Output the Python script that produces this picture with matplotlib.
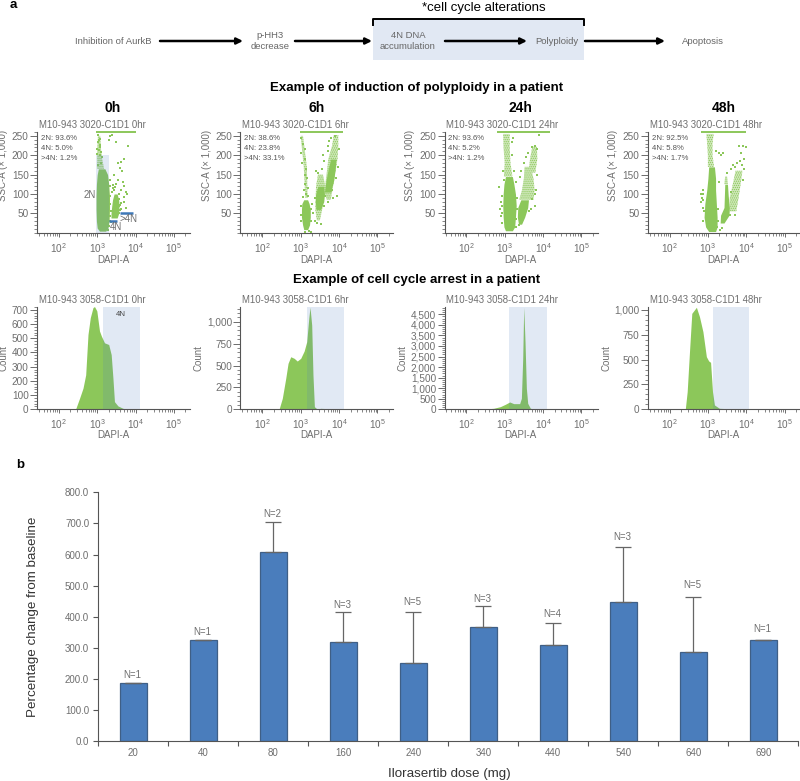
import numpy as np
import matplotlib
matplotlib.use('Agg')
import matplotlib.pyplot as plt
from matplotlib.ticker import MultipleLocator, StrMethodFormatter, NullFormatter, LogLocator

plt.rcParams['font.family'] = ['Liberation Sans', 'DejaVu Sans']
plt.rcParams['mathtext.default'] = 'regular'
plt.rcParams['hatch.linewidth'] = 0.6

# ---- panel a, scatter plots: x values are log10(DAPI-A), y values are SSC-A / 1000
# clusters are (y levels, left edge, right edge)
hours = ['0h', '6h', '24h', '48h']
scatter_names = ['M10-943 3020-C1D1 0hr', 'M10-943 3020-C1D1 6hr',
                 'M10-943 3020-C1D1 24hr', 'M10-943 3020-C1D1 48hr']
hist_names = ['M10-943 3058-C1D1 0hr', 'M10-943 3058-C1D1 6hr',
              'M10-943 3058-C1D1 24hr', 'M10-943 3058-C1D1 48hr']
stats = [['2N: 93.6%', '4N: 5.0%', '>4N: 1.2%'],
         ['2N: 38.6%', '4N: 23.8%', '>4N: 33.1%'],
         ['2N: 93.6%', '4N: 5.2%', '>4N: 1.2%'],
         ['2N: 92.5%', '4N: 5.8%', '>4N: 1.7%']]

dense_0h = [
    ([4, 12, 30, 60, 95, 125, 150, 165],
     [3.06, 3.00, 2.98, 2.97, 2.97, 2.98, 3.00, 3.03],
     [3.22, 3.28, 3.31, 3.32, 3.32, 3.30, 3.27, 3.20]),
    ([38, 50, 70, 85, 100],
     [3.36, 3.36, 3.38, 3.40, 3.44],
     [3.52, 3.56, 3.57, 3.56, 3.52]),
]
sparse_0h = [
    ([165, 190, 215, 250],
     [3.00, 3.00, 3.00, 3.02],
     [3.18, 3.13, 3.10, 3.08]),
]
dots_0h = [(3.03, 251), (3.08, 243), (3.02, 234), (3.06, 226), (2.99, 217), (3.04, 213),
           (3.10, 209), (3.00, 204), (3.06, 200), (3.32, 240), (3.50, 233), (3.80, 224),
           (3.34, 250), (3.39, 253), (3.71, 189), (3.63, 183), (3.54, 179), (3.60, 166),
           (3.65, 160), (3.45, 148), (3.54, 136), (3.67, 131), (3.71, 120), (3.50, 127),
           (3.41, 123), (3.63, 110), (3.74, 106), (3.77, 101), (3.69, 93), (3.58, 88),
           (3.71, 80), (3.63, 76), (3.76, 63), (3.60, 58), (3.45, 110), (3.10, 180),
           (3.02, 175), (3.08, 222), (3.05, 240), (3.12, 196), (3.40, 115), (3.58, 100),
           (3.62, 62), (3.47, 118), (3.56, 70), (3.60, 72), (3.33, 75), (3.34, 95),
           (3.35, 55), (3.34, 42), (3.38, 105), (3.58, 50), (3.33, 135), (3.36, 28),
           (3.30, 18), (3.27, 8), (3.33, 30), (3.34, 120)]

dense_6h = [
    ([8, 20, 40, 60, 75, 85],
     [3.08, 3.05, 3.02, 3.02, 3.03, 3.08],
     [3.18, 3.23, 3.25, 3.25, 3.22, 3.18]),
    ([60, 80, 100, 120],
     [3.40, 3.38, 3.39, 3.45],
     [3.52, 3.60, 3.62, 3.60]),
    ([105, 135, 165, 190],
     [3.62, 3.66, 3.72, 3.78],
     [3.78, 3.86, 3.90, 3.92]),
]
sparse_6h = [
    ([32, 60, 120, 150],
     [3.42, 3.38, 3.40, 3.45],
     [3.50, 3.56, 3.64, 3.58]),
    ([85, 105, 190, 225, 252],
     [3.68, 3.62, 3.72, 3.82, 3.86],
     [3.78, 3.82, 3.96, 3.98, 3.98]),
    ([90, 170, 250],
     [3.12, 3.08, 3.00],
     [3.18, 3.16, 3.06]),
]
dots_6h = [(3.02, 245), (3.05, 228), (3.00, 205), (3.10, 215), (3.12, 190), (3.04, 180),
           (3.15, 165), (3.10, 150), (3.17, 140), (3.12, 125), (3.18, 115), (3.08, 110),
           (3.15, 100), (3.20, 95), (3.05, 92), (3.45, 155), (3.40, 160), (3.30, 75),
           (3.33, 50), (3.38, 30), (3.42, 25), (3.52, 22), (3.60, 70), (3.55, 165),
           (3.62, 185), (3.58, 200), (3.70, 225), (3.75, 238), (3.80, 245), (3.72, 210),
           (3.85, 90), (3.82, 110), (3.95, 95), (3.70, 78), (3.98, 170), (4.00, 215),
           (3.93, 140), (3.10, 3), (3.22, 5), (3.27, 2), (3.00, 70), (3.01, 45),
           (3.27, 60), (3.26, 30), (3.00, 30), (3.63, 95), (3.36, 90), (3.90, 250)]

dense_24h = [
    ([5, 15, 40, 70, 100, 125, 145],
     [3.02, 2.98, 2.96, 2.95, 2.96, 2.98, 3.02],
     [3.20, 3.26, 3.28, 3.30, 3.28, 3.24, 3.20]),
    ([22, 40, 65, 85],
     [3.36, 3.33, 3.34, 3.42],
     [3.44, 3.52, 3.60, 3.62]),
]
sparse_24h = [
    ([145, 180, 220, 255],
     [2.98, 3.00, 2.97, 2.96],
     [3.20, 3.15, 3.13, 3.13]),
    ([85, 110, 140, 170],
     [3.38, 3.45, 3.50, 3.52],
     [3.75, 3.78, 3.75, 3.68]),
    ([155, 190, 222],
     [3.62, 3.66, 3.72],
     [3.80, 3.85, 3.84]),
]
dots_24h = [(2.85, 117), (2.90, 80), (2.88, 60), (2.92, 25), (2.90, 42), (3.30, 130),
            (3.40, 145), (3.42, 160), (3.50, 180), (3.55, 195), (3.60, 205), (3.70, 222),
            (3.80, 225), (3.85, 215), (3.78, 70), (3.72, 88), (3.82, 110), (3.85, 150),
            (3.20, 200), (3.18, 235), (3.22, 245), (3.90, 252), (3.38, 20), (3.30, 15),
            (2.94, 95), (2.93, 70), (2.94, 50), (3.31, 60), (3.31, 90), (3.30, 35),
            (3.24, 160), (2.97, 135), (2.95, 160), (3.63, 55), (3.68, 62), (3.80, 100)]

dense_48h = [
    ([3, 15, 40, 75, 110, 140, 170],
     [3.02, 2.94, 2.90, 2.92, 2.97, 3.00, 3.02],
     [3.20, 3.24, 3.24, 3.22, 3.20, 3.20, 3.17]),
    ([25, 45, 65, 95, 125],
     [3.32, 3.33, 3.42, 3.43, 3.44],
     [3.42, 3.55, 3.56, 3.53, 3.51]),
]
sparse_48h = [
    ([170, 200, 230, 255],
     [3.00, 3.00, 2.98, 2.96],
     [3.16, 3.12, 3.12, 3.15]),
    ([125, 145],
     [3.43, 3.45],
     [3.52, 3.50]),
    ([55, 90, 130, 160],
     [3.57, 3.57, 3.66, 3.72],
     [3.74, 3.80, 3.86, 3.90]),
]
dots_48h = [(2.83, 100), (2.85, 90), (2.82, 80), (2.88, 110), (2.86, 65), (2.88, 30),
            (3.20, 210), (3.28, 205), (3.35, 200), (3.40, 207), (3.30, 130), (3.25, 15),
            (3.32, 8), (3.38, 12), (3.60, 165), (3.65, 175), (3.75, 180), (3.85, 185),
            (3.90, 175), (3.95, 190), (3.80, 225), (3.92, 225), (4.00, 220), (3.87, 205),
            (3.70, 170), (3.58, 45), (3.50, 155), (3.70, 45), (2.88, 85), (2.90, 55),
            (2.87, 100), (3.26, 60), (3.26, 30), (3.95, 165), (3.60, 105), (3.92, 135)]

scatter_dense = [dense_0h, dense_6h, dense_24h, dense_48h]
scatter_sparse = [sparse_0h, sparse_6h, sparse_24h, sparse_48h]
scatter_dots = [dots_0h, dots_6h, dots_24h, dots_48h]
# off-scale events piled up along the top edge: (from, to) in log10 DAPI-A
top_edge = [(2.96, 4.00), (2.97, 4.11), (2.80, 4.19), (2.83, 4.00)]

# ---- panel a, histograms: log10(DAPI-A) and count
hist_x_0h = [2.435, 2.54, 2.63, 2.70, 2.76, 2.82, 2.89, 2.93, 2.99, 3.06, 3.11, 3.19, 3.30,
             3.365, 3.41, 3.45, 3.54, 3.67, 3.80]
hist_y_0h = [0, 78, 149, 243, 527, 645, 716, 723, 693, 551, 515, 468, 456, 385, 220, 54, 24, 7, 0]
hist_x_6h = [2.435, 2.52, 2.61, 2.67, 2.74, 2.83, 2.91, 3.0, 3.09, 3.157, 3.21, 3.243, 3.287,
             3.32, 3.357, 3.435, 3.52, 3.87]
hist_y_6h = [0, 125, 354, 525, 600, 582, 551, 582, 665, 772, 1038, 1165, 962, 392, 30, 0, 11, 4]
hist_x_24h = [2.365, 2.71, 2.887, 3.017, 3.13, 3.235, 3.39, 3.435, 3.47, 3.496, 3.53, 3.565,
              3.60, 3.67, 3.84]
hist_y_24h = [0, 47, 126, 237, 347, 268, 268, 521, 2417, 4840, 3200, 995, 284, 47, 0]
hist_x_48h = [2.41, 2.46, 2.52, 2.58, 2.70, 2.78, 2.87, 2.96, 3.02, 3.07, 3.12, 3.17, 3.30,
              3.70, 3.96]
hist_y_48h = [0, 178, 580, 966, 1027, 933, 782, 530, 487, 473, 178, 44, 10, 3, 0]

hist_x = [hist_x_0h, hist_x_6h, hist_x_24h, hist_x_48h]
hist_y = [hist_y_0h, hist_y_6h, hist_y_24h, hist_y_48h]
hist_ymax = [720, 1168, 4846, 1030]
hist_major = [100, 250, 500, 250]
hist_minor = [20, 50, 100, 50]
gate_4n = [(3.15, 4.107), (3.157, 4.13), (3.12, 4.10), (3.14, 4.08)]

# ---- panel b
doses = ['20', '40', '80', '160', '240', '340', '440', '540', '640', '690']
pct_change = [186, 327, 607, 319, 250, 366, 309, 446, 287, 327]
err_up = [0, 0, 96, 97, 166, 70, 72, 179, 177, 0]
n_patients = [1, 1, 2, 3, 5, 3, 4, 3, 5, 1]

# ---- styles
GREEN = '#8CC75A'
PALE_GREEN = '#CFE8BA'
SHADE = '#4F7FBF'
SHADE_A = 0.17
GREY = '#6E6E6E'
AXIS = '#555555'
BLUE = '#4A7DBC'
col_left = [37, 240.5, 444.5, 647.7]
PANEL_W = 153

fig = plt.figure(figsize=(8, 7.81), dpi=100)


def px_axes(left, top, width, height):
    return fig.add_axes([left / 800, 1 - (top + height) / 781, width / 800, height / 781])


def style_flow_axes(ax):
    ax.set_xscale('log')
    ax.set_xlim(10 ** 1.43, 10 ** 5.42)
    ax.spines['top'].set_visible(False)
    ax.spines['right'].set_visible(False)
    ax.spines['left'].set_color(AXIS)
    ax.spines['bottom'].set_color(AXIS)
    ax.spines['left'].set_linewidth(0.8)
    ax.spines['bottom'].set_linewidth(0.8)
    ax.xaxis.set_major_locator(LogLocator(base=10, numticks=8))
    ax.xaxis.set_minor_locator(LogLocator(base=10, subs=np.arange(2, 10), numticks=8))
    ax.xaxis.set_minor_formatter(NullFormatter())
    ax.tick_params(axis='y', which='major', length=5, width=0.6, color=AXIS,
                   labelsize=7.2, labelcolor=GREY, pad=1)
    ax.tick_params(axis='x', which='major', length=3, width=0.6, color=AXIS,
                   labelsize=7.2, labelcolor=GREY, pad=3)
    ax.tick_params(axis='both', which='minor', length=2, width=0.5, color=AXIS)
    ax.patch.set_alpha(0)


for i in range(4):
    ax = px_axes(col_left[i], 132, PANEL_W, 100.7)
    style_flow_axes(ax)
    ax.set_ylim(0, 260)
    ax.yaxis.set_minor_locator(MultipleLocator(10))
    ax.set_yticks([50, 100, 150, 200, 250])
    for y, lo, hi in scatter_sparse[i]:
        # pale fill under a dot hatch stands in for the loosely packed events
        ax.fill_betweenx(y, 10 ** np.array(lo), 10 ** np.array(hi), facecolor=PALE_GREEN,
                         edgecolor=GREEN, hatch='........', lw=0)
    for y, lo, hi in scatter_dense[i]:
        ax.fill_betweenx(y, 10 ** np.array(lo), 10 ** np.array(hi), color=GREEN, lw=0)
    pts = np.array(scatter_dots[i])
    ax.scatter(10 ** pts[:, 0], pts[:, 1], s=2.2, marker='s', color=GREEN, lw=0)
    ax.plot([10 ** top_edge[i][0], 10 ** top_edge[i][1]], [259, 259], color=GREEN, lw=1.4,
            clip_on=False, solid_capstyle='butt')
    if i == 0:
        # 2N gate and the two marker bars are only on the first plot
        ax.fill_between([10 ** 2.97, 10 ** 3.31], 0, 200, color=SHADE, alpha=SHADE_A, lw=0)
        ax.plot([10 ** 3.30, 10 ** 3.51], [30, 30], color='#3D78B8', lw=1.8, solid_capstyle='butt')
        ax.plot([10 ** 3.60, 10 ** 3.93], [50.6, 50.6], color='#3D78B8', lw=1.8, solid_capstyle='butt')

for i in range(4):
    ax = px_axes(col_left[i], 307, PANEL_W, 102.3)
    style_flow_axes(ax)
    ax.set_ylim(0, hist_ymax[i])
    ax.yaxis.set_major_locator(MultipleLocator(hist_major[i]))
    ax.yaxis.set_minor_locator(MultipleLocator(hist_minor[i]))
    ax.yaxis.set_major_formatter(StrMethodFormatter('{x:,.0f}'))
    ax.fill_between(10 ** np.array(hist_x[i]), 0, hist_y[i], color=GREEN, lw=0)
    ax.axvspan(10 ** gate_4n[i][0], 10 ** gate_4n[i][1], color=SHADE, alpha=SHADE_A, lw=0)

# overlays in pixel coordinates for the diagram and all loose text
ov = fig.add_axes([0, 0, 1, 1], zorder=-1)
ov.set_xlim(0, 800)
ov.set_ylim(781, 0)
ov.axis('off')
top = fig.add_axes([0, 0, 1, 1], zorder=5)
top.set_xlim(0, 800)
top.set_ylim(781, 0)
top.axis('off')
top.patch.set_alpha(0)

ov.fill_between([373, 584], 19, 60, color='#E1E8F3', lw=0)
top.plot([373, 373, 584, 584], [25, 19, 19, 25], color='black', lw=1.4)
for x0, x1 in [(160, 243), (295, 372), (445, 527), (585, 665)]:
    top.annotate('', xy=(x1, 41), xytext=(x0, 41),
                 arrowprops=dict(arrowstyle='-|>', lw=1.8, color='black', mutation_scale=9,
                                 shrinkA=0, shrinkB=0))

DIAG = '#666666'
flow_txt = [(113, 'Inhibition of AurkB'), (270, 'p-HH3\ndecrease'), (408, '4N DNA\naccumulation'),
            (557, 'Polyploidy'), (703, 'Apoptosis')]
for x, s in flow_txt:
    top.text(x, 41, s, ha='center', va='center', fontsize=6.8, color=DIAG, linespacing=1.3)

top.text(13, 5, 'a', fontsize=9.5, fontweight='bold', ha='center', va='center')
top.text(20, 465, 'b', fontsize=9.5, fontweight='bold', ha='center', va='center')
top.text(484, 8, '*cell cycle alterations', fontsize=9.5, ha='center', va='center')
top.text(417, 88, 'Example of induction of polyploidy in a patient', fontsize=9.5,
         fontweight='bold', ha='center', va='center')
top.text(417, 280, 'Example of cell cycle arrest in a patient', fontsize=9.5,
         fontweight='bold', ha='center', va='center')

ssc_x = [3.5, 207, 410, 613]
count_x = [3.5, 199, 402, 606]
for i in range(4):
    left = col_left[i]
    top.text(left + 76, 108, hours[i], fontsize=10, fontweight='bold', ha='center', va='center')
    top.text(left + 2, 125, scatter_names[i], fontsize=6.9, color=GREY, ha='left', va='center')
    top.text(left + 2, 300, hist_names[i], fontsize=6.9, color=GREY, ha='left', va='center')
    for j, s in enumerate(stats[i]):
        top.text(left + 4, 139 + 10 * j, s, fontsize=5.6, color='#555555', ha='left', va='center')
    top.text(left + 76, 260, 'DAPI-A', fontsize=7, color=GREY, ha='center', va='center')
    top.text(left + 76, 435, 'DAPI-A', fontsize=7, color=GREY, ha='center', va='center')
    top.text(ssc_x[i], 165, 'SSC-A (\u00d7 1,000)', fontsize=7, color=GREY, rotation=90,
             ha='center', va='center')
    top.text(count_x[i], 358, 'Count', fontsize=7, color=GREY, rotation=90,
             ha='center', va='center')

top.text(90, 195.5, '2N', fontsize=7, color=GREY, ha='center', va='center')
top.text(129, 219, '>4N', fontsize=7, color=GREY, ha='center', va='center')
top.text(115.5, 227.5, '4N', fontsize=7, color=GREY, ha='center', va='center')
top.text(120.5, 314, '4N', fontsize=5.6, color='#444444', ha='center', va='center')

# ---- panel b bar chart
ax_b = px_axes(98.3, 492.3, 700, 249)
xs = np.arange(len(doses))
ax_b.bar(xs, pct_change, width=0.39, color=BLUE, edgecolor='#3F5F86', lw=0.9)
ax_b.errorbar(xs, pct_change, yerr=[np.zeros(len(doses)), err_up], fmt='none', ecolor='#666666',
              elinewidth=0.9, capsize=6, capthick=0.9)
ax_b.set_xlim(-0.5, 9.5)
ax_b.set_ylim(0, 800)
ax_b.yaxis.set_major_locator(MultipleLocator(100))
ax_b.yaxis.set_major_formatter(StrMethodFormatter('{x:.1f}'))
ax_b.set_xticks(np.arange(-0.5, 10, 1))
ax_b.set_xticklabels([])
ax_b.set_xticks(xs, minor=True)
ax_b.set_xticklabels(doses, minor=True)
ax_b.tick_params(axis='x', which='major', length=3.6, width=0.8, color=AXIS)
ax_b.tick_params(axis='x', which='minor', length=0, labelsize=7, labelcolor=GREY, pad=5)
ax_b.tick_params(axis='y', length=3.6, width=0.8, color=AXIS, labelsize=7, labelcolor=GREY, pad=3)
ax_b.spines['top'].set_visible(False)
ax_b.spines['right'].set_visible(False)
ax_b.spines['left'].set_color(AXIS)
ax_b.spines['bottom'].set_color(AXIS)
ax_b.patch.set_alpha(0)
tops = np.array(pct_change) + np.array(err_up)
label_gap = [8, 7.5, 8.5, 7, 9.5, 7, 8.5, 9.5, 11.5, 10.5]
for x, t, n, g in zip(xs, tops, n_patients, label_gap):
    ax_b.annotate('N={}'.format(n), (x - 0.02, t), xytext=(0, g * 0.72), textcoords='offset points',
                  ha='center', va='center', fontsize=7, color=GREY)
top.text(33, 617, 'Percentage change from baseline', fontsize=9.6, color='#333333', rotation=90,
         ha='center', va='center')
top.text(449, 774, 'Ilorasertib dose (mg)', fontsize=9.6, color='#333333', ha='center', va='center')

plt.savefig('out.png', dpi=100)
